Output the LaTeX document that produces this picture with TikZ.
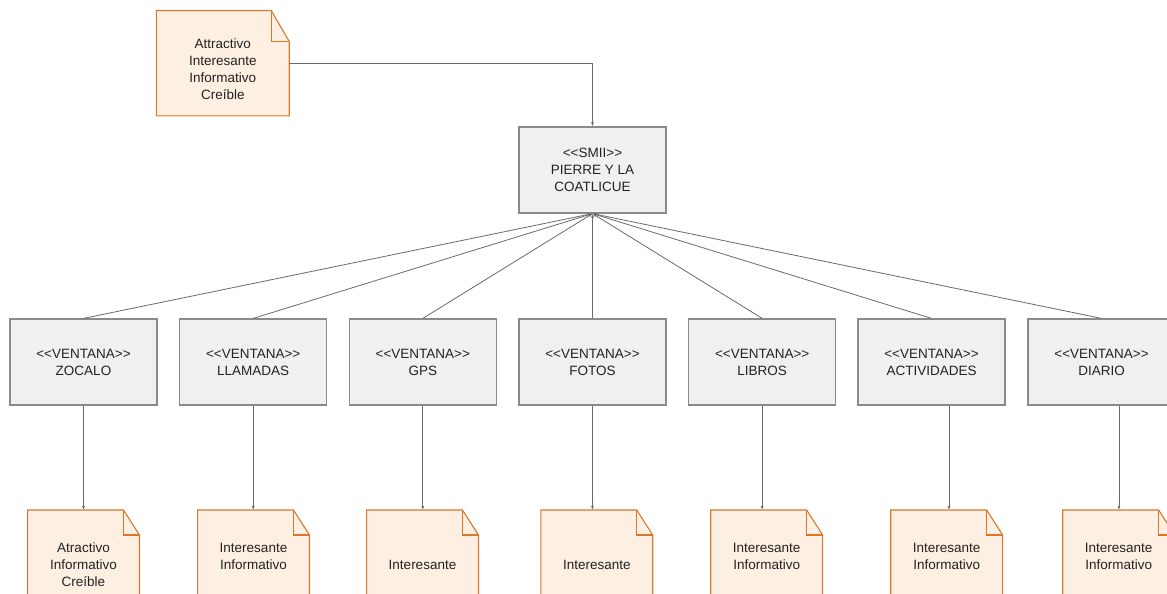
\documentclass[tikz,border=0pt]{standalone}
\usepackage{fontspec}
\setmainfont{Liberation Sans}
\usetikzlibrary{arrows.meta,backgrounds}
\definecolor{cajafondo}{HTML}{F0F0F0}
\definecolor{cajaborde}{HTML}{8A8A8A}
\definecolor{notafondo}{HTML}{FDF0E3}
\definecolor{notaborde}{HTML}{D9782D}
\definecolor{lineagris}{HTML}{6A6A6A}
\definecolor{textogris}{HTML}{222222}

\begin{document}
\begin{tikzpicture}[x=1pt, y=-1pt,
    every node/.style={inner sep=0pt, text=textogris, font=\fontsize{13.5}{17}\selectfont},
    caja/.style={draw=cajaborde, fill=cajafondo, line width=1.2pt, minimum width=147pt, minimum height=86pt, align=center},
    notatexto/.style={minimum width=111.5pt, align=center, anchor=north},
    nota/.style={draw=notaborde, fill=notafondo, line width=1.1pt},
    pliegue/.style={draw=notaborde, line width=1.1pt},
    conector/.style={draw=lineagris, line width=0.8pt, -{Latex[length=4pt,width=3pt]}}]
    \useasboundingbox (0,0) rectangle (1167,594);
    % nota superior y sistema
    \node [align=center, minimum width=132.5pt, minimum height=105pt] (ntop) at (222.8,63.2) {\rule{0pt}{21.5pt}Attractivo\\Interesante\\Informativo\\Creíble};
    \node [caja] (smii) at (592.5,170) {<{}<SMII>{}>\\PIERRE Y LA\\COATLICUE};
    % ventanas
    \node [caja] (vzoc) at (83.5,362) {<{}<VENTANA>{}>\\ZOCALO};
    \node [caja] (vlla) at (253.2,362) {<{}<VENTANA>{}>\\LLAMADAS};
    \node [caja] (vgps) at (422.8,362) {<{}<VENTANA>{}>\\GPS};
    \node [caja] (vfot) at (592.5,362) {<{}<VENTANA>{}>\\FOTOS};
    \node [caja] (vlib) at (762.2,362) {<{}<VENTANA>{}>\\LIBROS};
    \node [caja] (vact) at (931.5,362) {<{}<VENTANA>{}>\\ACTIVIDADES};
    \node [caja] (vdia) at (1101.5,362) {<{}<VENTANA>{}>\\DIARIO};
    % notas inferiores
    \node [notatexto, minimum height=109pt] (nzoc) at (83.5,510) {Atractivo\\Informativo\\Creíble};
    \node [notatexto, minimum height=92pt] (nlla) at (253.5,510) {Interesante\\Informativo};
    \node [notatexto, minimum height=109pt] (ngps) at (422.5,510) {Interesante};
    \node [notatexto, minimum height=109pt] (nfot) at (596.8,510) {Interesante};
    \node [notatexto, minimum height=92pt] (nlib) at (766.7,510) {Interesante\\Informativo};
    \node [notatexto, minimum height=92pt] (nact) at (946.7,510) {Interesante\\Informativo};
    \node [notatexto, minimum height=92pt] (ndia) at (1118.7,510) {Interesante\\Informativo};
    % conectores
    \draw [conector] (ntop.east) -| (smii.north);
    \draw [conector] (vzoc.north) -- (smii.south);
    \draw [conector] (vlla.north) -- (smii.south);
    \draw [conector] (vgps.north) -- (smii.south);
    \draw [conector] (vfot.north) -- (smii.south);
    \draw [conector] (vlib.north) -- (smii.south);
    \draw [conector] (vact.north) -- (smii.south);
    \draw [conector] (vdia.north) -- (smii.south);
    \draw [conector] (vzoc.south) -- (vzoc.south |- nzoc.north);
    \draw [conector] (vlla.south) -- (vlla.south |- nlla.north);
    \draw [conector] (vgps.south) -- (vgps.south |- ngps.north);
    \draw [conector] (vfot.south) -- (vfot.south |- nfot.north);
    \draw [conector] (vlib.south) -- (vlib.south |- nlib.north);
    \draw [conector] ([xshift=17.5pt]vact.south) -- ([xshift=17.5pt]vact.south |- nact.north);
    \draw [conector] ([xshift=17.5pt]vdia.south) -- ([xshift=17.5pt]vdia.south |- ndia.north);
    % hojas de las notas
    \begin{scope}[on background layer]
      \draw [nota] (ntop.north west) -- ([xshift=-18pt]ntop.north east) -- ([yshift=-31pt]ntop.north east) -- (ntop.south east) -- (ntop.south west) -- cycle;
      \draw [pliegue] ([xshift=-18pt]ntop.north east) |- ([yshift=-31pt]ntop.north east);
      \foreach \n in {nzoc,nlla,ngps,nfot,nlib,nact,ndia} {
        \draw [nota] (\n.north west) -- ([xshift=-16pt]\n.north east) -- ([yshift=-25pt]\n.north east) -- (\n.south east) -- (\n.south west) -- cycle;
        \draw [pliegue] ([xshift=-16pt]\n.north east) |- ([yshift=-25pt]\n.north east);
      }
    \end{scope}
\end{tikzpicture}
\end{document}
